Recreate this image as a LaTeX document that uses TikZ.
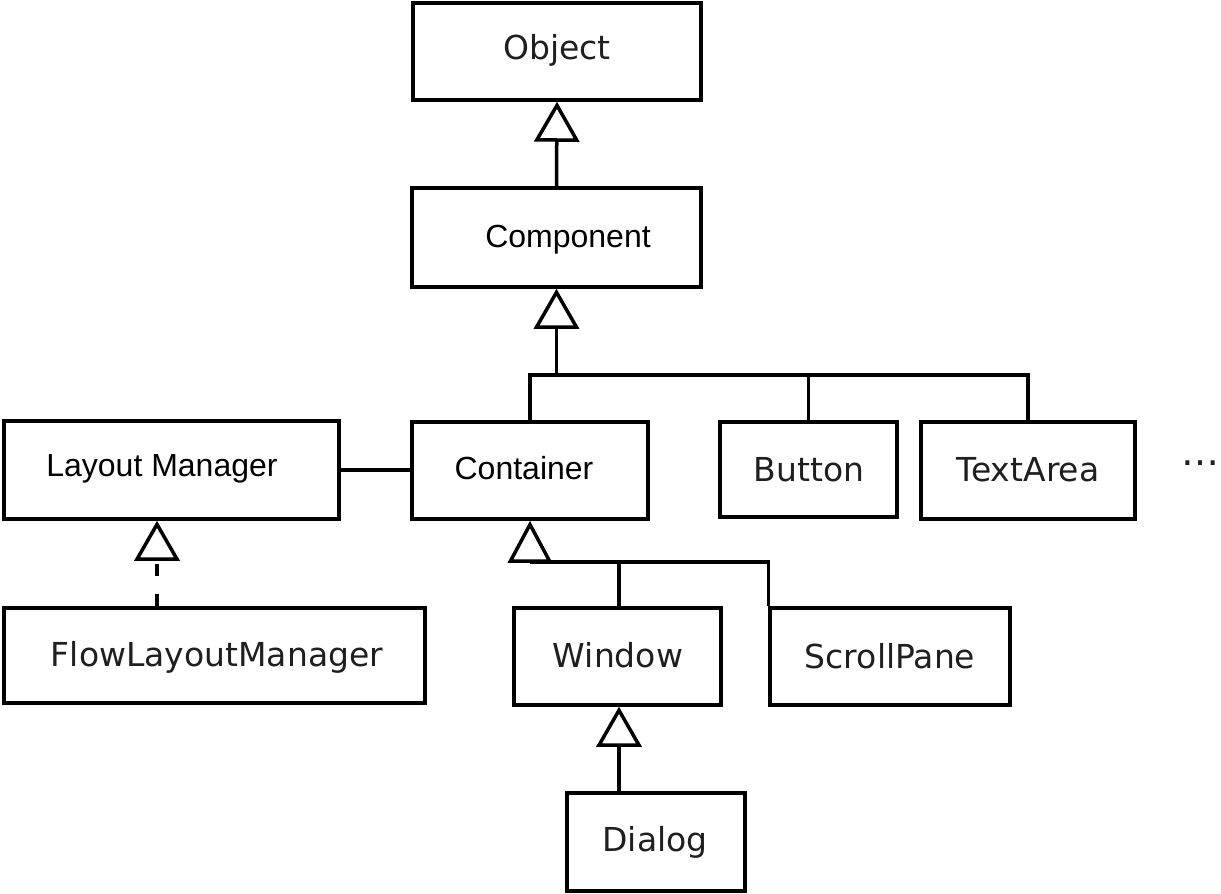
\documentclass[tikz,border=0pt]{standalone}
\usepackage{fontspec}
\setmainfont{DejaVu Sans}
\newfontfamily\arialfont{Liberation Sans}
\usetikzlibrary{arrows.meta}
\begin{document}
\begin{tikzpicture}[x=1pt,y=-1pt,
  line width=3.5pt, line join=miter,
  umlbox/.style={draw=black, fill=white, rectangle, inner sep=0pt, minimum width=#1},
  txt/.style={font=\fontsize{33}{36}\selectfont, text=black!88, inner sep=0pt},
  atxt/.style={font=\arialfont\fontsize{32}{36}\selectfont, text=black, inner sep=0pt},
  inh/.style={-{Triangle[open, length=40pt, width=45pt, fill=white]}},
  inhshort/.style={-{Triangle[open, length=42pt, width=44pt, fill=white]}},
  realize/.style={inh, dash pattern=on 12pt off 18pt}]
\useasboundingbox (0,0) rectangle (1221,894);
\fill[white] (0,0) rectangle (1221,894);

% class boxes
\node[umlbox=288pt, minimum height=97pt] (object) at (557,51.5) {};
\node[umlbox=289pt, minimum height=99pt] (component) at (556.5,237.5) {};
\node[umlbox=236pt, minimum height=97pt] (container) at (530,470.5) {};
\node[umlbox=177pt, minimum height=95pt] (button) at (808.5,469.5) {};
\node[umlbox=214pt, minimum height=97pt] (textarea) at (1028,470.5) {};
\node[umlbox=335pt, minimum height=98pt] (layout) at (171.5,470) {};
\node[umlbox=421pt, minimum height=95pt] (flow) at (214.5,655.5) {};
\node[umlbox=207pt, minimum height=97pt] (window) at (617.5,656.5) {};
\node[umlbox=240pt, minimum height=97pt] (scroll) at (890,656.5) {};
\node[umlbox=178pt, minimum height=98pt] (dialog) at (656,842) {};

% class names
\node[txt] (objectT) at (557,50) {Object};
\node[atxt] (componentT) at (568,240) {Component};
\node[atxt] (containerT) at (524,468) {Container};
\node[txt] (buttonT) at (809,470) {Button};
\node[txt] (textareaT) at (1028,470) {TextArea};
\node[atxt] (layoutT) at (162,469) {Layout Manager};
\node[txt] (flowT) at (217,657) {FlowLayoutManager};
\node[txt] (windowT) at (618,655) {Window};
\node[txt] (scrollT) at (890,656) {ScrollPane};
\node[txt] (dialogT) at (655,842) {Dialog};
\node[txt, font=\fontsize{38}{40}\selectfont] (moreT) at (1200,463) {…};

% bus lines of the generalisation trees
\coordinate (cbar) at (0,375);
\coordinate (wbar) at (0,562);
\coordinate (lmx) at (157,0);

% Component is an Object
\draw[inh] (component.north) -- (object.south);

% Container, Button, TextArea are Components
\draw (textarea.north) |- (container.north |- cbar);
\draw (button.north) |- (button.north |- cbar);
\draw[inh] (container.north) |- (component.south |- cbar) -- (component.south);

% Window and ScrollPane are Containers
\draw (scroll.north west) |- (container.south |- wbar);
\draw ([xshift=1.5pt]window.north) -- ([xshift=1.5pt]window.north |- wbar);
\draw[inhshort] (container.south |- wbar) -- (container.south);

% Dialog is a Window
\draw[inh] ([xshift=1.5pt]window.south |- dialog.north) -- ([xshift=1.5pt]window.south);

% FlowLayoutManager realises LayoutManager
\draw[realize] (lmx |- flow.north) -- (lmx |- layout.south);

% association between LayoutManager and Container
\draw (layout.east) -- (container.west |- layout.east);
\end{tikzpicture}
\end{document}
